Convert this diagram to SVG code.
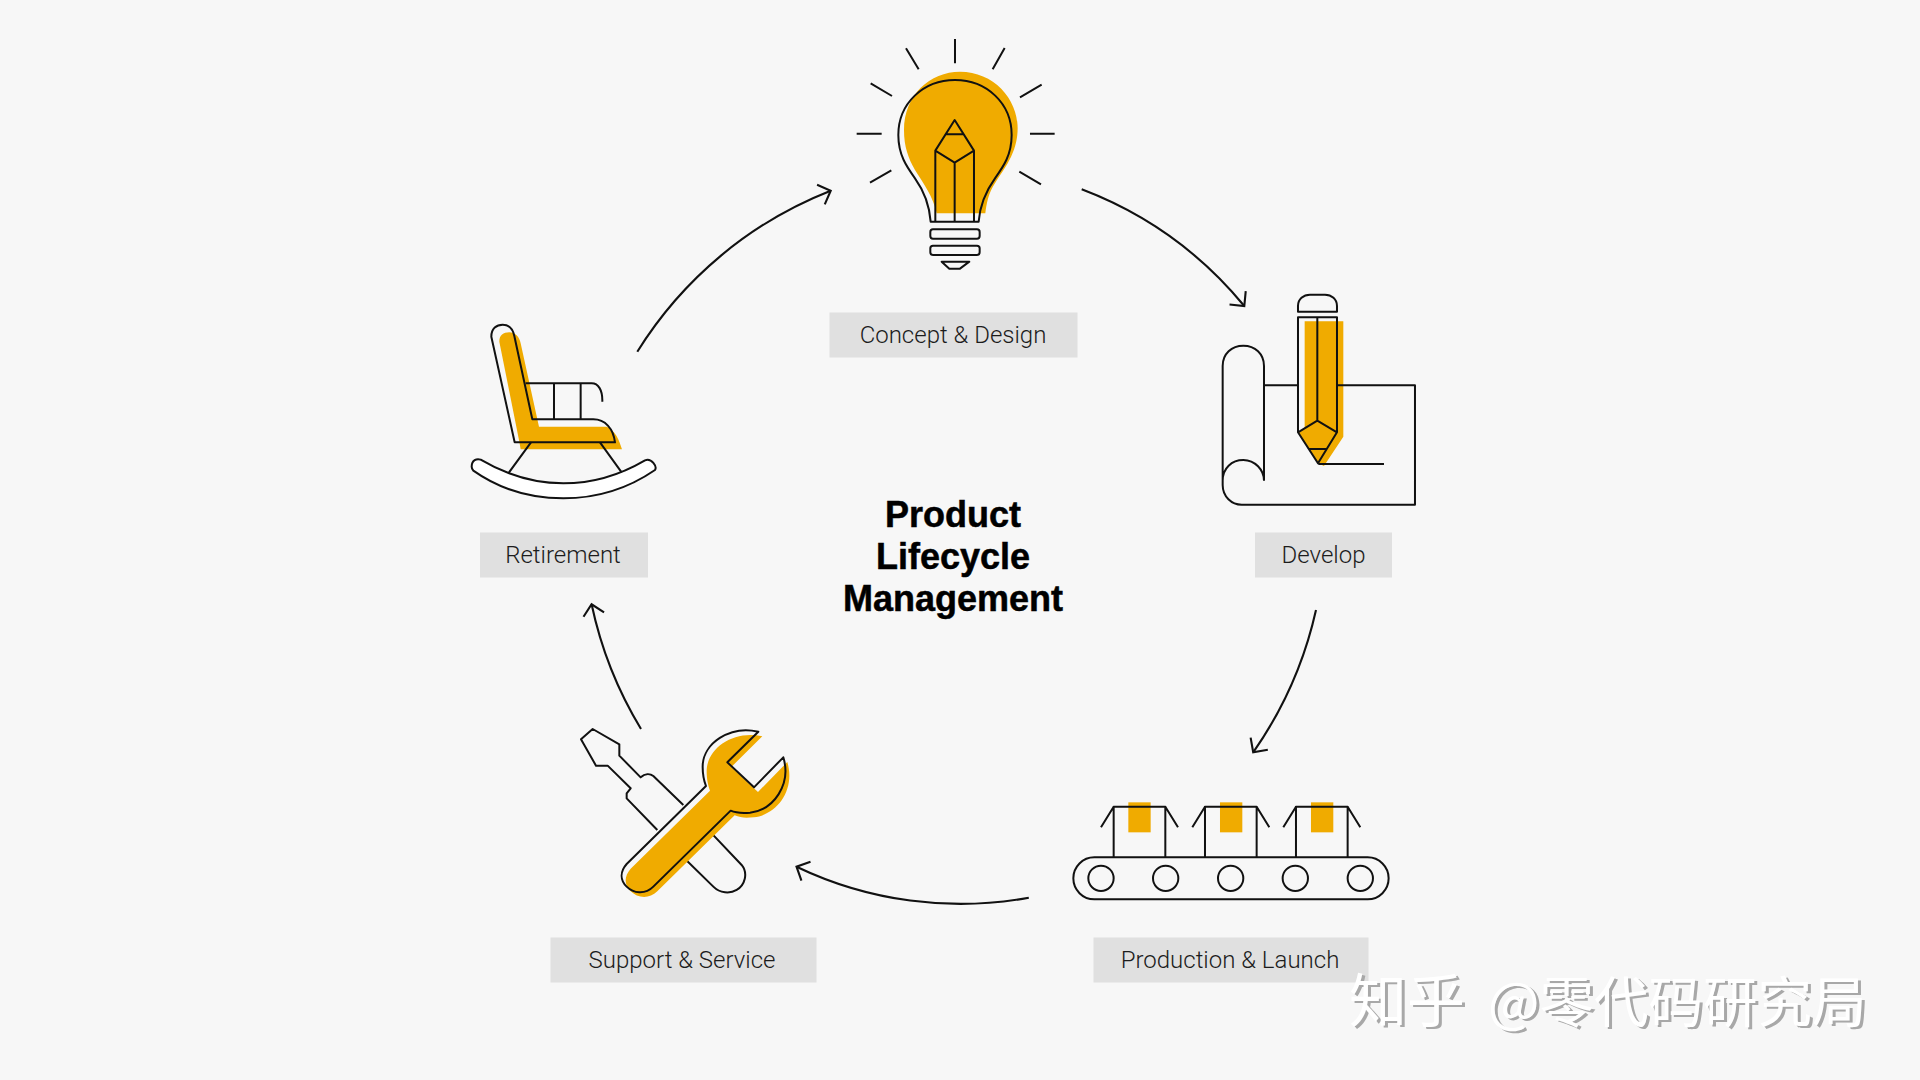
<svg xmlns="http://www.w3.org/2000/svg" width="1920" height="1080" viewBox="0 0 1920 1080">
<style>
.ln{fill:none;stroke:#111;stroke-width:6;stroke-linejoin:round;stroke-linecap:butt}
.y{fill:#f0ab00;stroke:none}
.conn{fill:none;stroke:#111;stroke-width:2.1}
.lb{fill:#e0e0e0}
.t{font-family:"Roboto","Liberation Sans",sans-serif;font-size:24px;fill:#1c1c1c;text-anchor:middle;font-weight:300}
.h{font-family:"Liberation Sans","Roboto",sans-serif;font-size:36px;font-weight:700;fill:#000;stroke:#000;stroke-width:.5;text-anchor:middle}
.wm{font-family:"Noto Sans CJK SC","Noto Sans",sans-serif;font-size:54.5px;font-weight:400}
.wb{font-size:58px}
</style>
<defs>
<marker id="ah" markerUnits="userSpaceOnUse" markerWidth="24" markerHeight="24" refX="12" refY="12" orient="auto" overflow="visible"><path d="M1.5 1.5L12 12L1.5 22.5" fill="none" stroke="#111" stroke-width="2.1"/></marker>
</defs>
<rect width="1920" height="1080" fill="#f7f7f7"/>
<g id="connectors">
<path class="conn" marker-end="url(#ah)" d="M1081.7 189.3A390 390 0 0 1 1244.3 306"/>
<path class="conn" marker-end="url(#ah)" d="M1316 610A400 400 0 0 1 1253.2 752.3"/>
<path class="conn" marker-end="url(#ah)" d="M1028.8 897.7A380 380 0 0 1 796.5 866.7"/>
<path class="conn" marker-end="url(#ah)" d="M641 729A400 400 0 0 1 591.6 604.3"/>
<path class="conn" marker-end="url(#ah)" d="M637.3 351.7A400 400 0 0 1 830.7 190.7"/>
</g>
<g id="node-concept">
<g transform="translate(840 20) scale(.3333)">
<path class="y" d="M360 155C460 155 533 235 533 325C533 400 490 450 465 490C445 520 440 550 436 580H290C280 530 250 490 225 450C205 415 192 380 192 330C192 225 270 155 360 155Z"/>
<path class="ln" d="M272 605C268 550 250 510 225 475C200 440 175 405 175 345C175 250 250 180 345 180C440 180 515 250 515 345C515 405 490 440 465 475C440 510 420 550 416 605Z"/>
<path class="ln" d="M286 605V392L344 300L402 392V605M286 392L344 428L402 392M344 428V605M318 343H370"/>
<rect class="ln" x="271" y="628" width="148" height="28" rx="8"/>
<rect class="ln" x="271" y="677" width="148" height="28" rx="8"/>
<path class="ln" d="M305 725H388L360 746H328Z"/>
<path class="ln" d="M345 57V130M198 85L236 148M494 84L458 148M92 190L156 228M605 194L540 232M50 341H125M570 341H644M90 488L154 451M603 493L538 455"/>
</g>
<rect class="lb" x="829.5" y="312.5" width="248" height="45"/>
<text class="t" x="953" y="343">Concept &amp; Design</text>
</g>
<g id="node-develop">
<g transform="translate(1200 280) scale(.3333)">
<path class="y" d="M314 124H430V470L372 558L355 550L296 458L314 445Z"/>
<path class="ln" d="M294 95V78C294 58 310 44 330 44H375C395 44 411 58 411 78V95Z"/>
<path class="ln" d="M294 112H411V457L354 550L294 457ZM352 112V422M294 457L352 422L411 457M326 507H380"/>
<path class="ln" d="M192 602V258C192 222 165 197 130 197C95 197 68 222 68 258V615C68 650 95 674 125 674H645V316H412M294 316H192M68 602C68 565 95 540 130 540C165 540 192 570 192 602M355 552H552"/>
</g>
<rect class="lb" x="1255" y="532.5" width="137" height="45"/>
<text class="t" x="1323.5" y="563">Develop</text>
</g>
<g id="node-production">
<g transform="translate(1060 780) scale(.3333)">
<rect class="y" x="205" y="67" width="67" height="90"/>
<rect class="y" x="480" y="67" width="67" height="90"/>
<rect class="y" x="753" y="67" width="67" height="90"/>
<rect class="ln" x="40" y="232" width="946" height="126" rx="63"/>
<circle class="ln" cx="123" cy="295" r="38"/>
<circle class="ln" cx="317" cy="295" r="38"/>
<circle class="ln" cx="512" cy="295" r="38"/>
<circle class="ln" cx="706" cy="295" r="38"/>
<circle class="ln" cx="901" cy="295" r="38"/>
<path class="ln" d="M161 232V80H316V232M161 80L123 142M316 80L354 142"/>
<path class="ln" d="M435 232V80H590V232M435 80L397 142M590 80L628 142"/>
<path class="ln" d="M708 232V80H863V232M708 80L670 142M863 80L901 142"/>
</g>
<rect class="lb" x="1093.5" y="937.5" width="275" height="45"/>
<text class="t" x="1230" y="968">Production &amp; Launch</text>
</g>
<g id="node-support">
<g transform="translate(570 710) scale(.3333)">
<path class="ln" d="M340 285L250 198C240 190 225 190 212 202L148 137V103L68 57L33 88L78 167H113L182 235L170 250V265L262 360M420 365L515 465C535 490 525 525 500 540C480 552 450 550 430 530L343 445"/>
<path class="y" transform="translate(12 14)" d="M565 65C480 45 398 100 398 170C398 195 403 215 408 228L170 462C150 485 150 510 170 530C190 550 225 555 250 530L482 302C500 310 515 310 540 308C610 300 665 225 640 142L552 232L472 157Z"/>
<path class="ln" d="M565 65C480 45 398 100 398 170C398 195 403 215 408 228L170 462C150 485 150 510 170 530C190 550 225 555 250 530L482 302C500 310 515 310 540 308C610 300 665 225 640 142L552 232L472 157Z"/>
</g>
<rect class="lb" x="550.5" y="937.5" width="266" height="45"/>
<text class="t" x="682" y="968">Support &amp; Service</text>
</g>
<g id="node-retirement">
<g transform="translate(460 310) scale(.3333)">
<path class="y" d="M118 95C118 75 130 67 148 67C165 67 178 80 182 100L237 350H440C465 360 478 390 486 418H182L178 395Z"/>
<path d="M35 470C35 450 50 445 62 449C140 495 220 520 310 520C400 520 480 495 555 451C575 443 592 470 585 480C505 535 410 565 310 565C210 565 115 535 40 482C37 478 35 475 35 470Z" fill="#fff" stroke="#111" stroke-width="6"/>
<path class="ln" d="M94 80C94 55 110 44 128 44C145 44 158 55 163 78L217 328H400C435 328 460 355 465 397H164L94 80Z"/>
<path class="ln" d="M197 220H395C415 220 428 240 427 275M282 220V328M362 220V328M213 397L145 490M420 397L485 487"/>
</g>
<rect class="lb" x="480" y="532.5" width="168" height="45"/>
<text class="t" x="563" y="563">Retirement</text>
</g>
<g id="center-title">
<text class="h" x="953" y="527">Product</text>
<text class="h" x="953" y="569">Lifecycle</text>
<text class="h" x="953" y="611">Management</text>
</g>
<g id="watermark">
<text class="wm" fill="#a8a8a8" y="1024"><tspan class="wb" x="1352">知乎</tspan><tspan x="1491">@零代码研究局</tspan></text>
<text class="wm" fill="#fff" y="1022"><tspan class="wb" x="1349">知乎</tspan><tspan x="1488">@零代码研究局</tspan></text>
</g>
</svg>
